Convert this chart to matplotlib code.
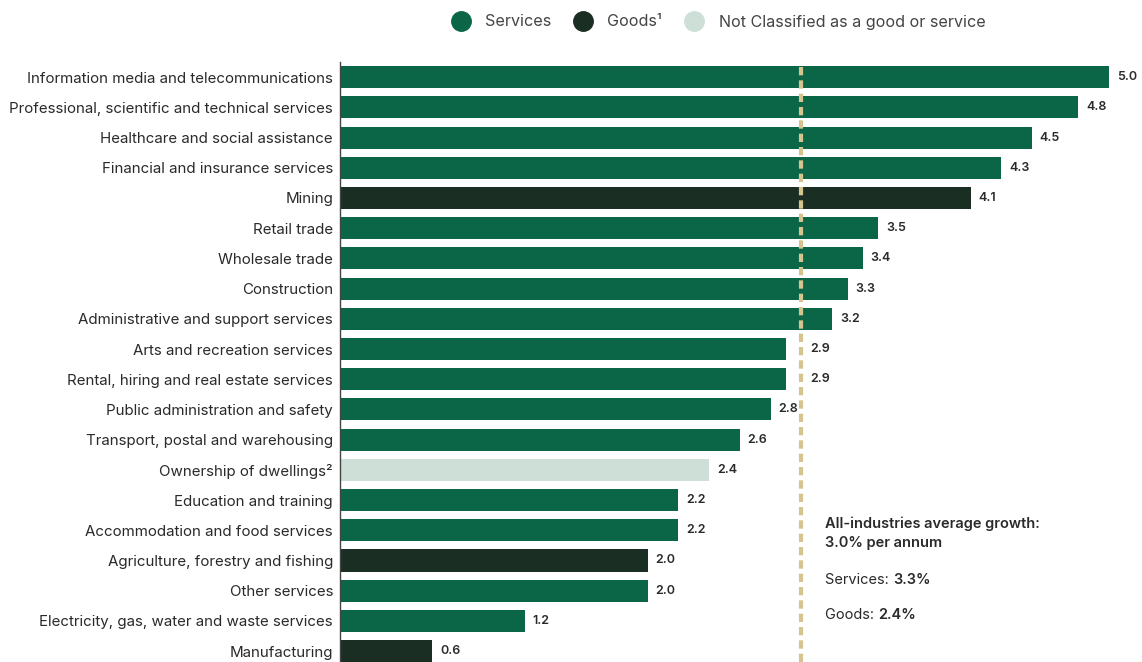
import matplotlib.pyplot as plt
from matplotlib.lines import Line2D

industries = [
    "Information media and telecommunications",
    "Professional, scientific and technical services",
    "Healthcare and social assistance",
    "Financial and insurance services",
    "Mining",
    "Retail trade",
    "Wholesale trade",
    "Construction",
    "Administrative and support services",
    "Arts and recreation services",
    "Rental, hiring and real estate services",
    "Public administration and safety",
    "Transport, postal and warehousing",
    "Ownership of dwellings\u00b2",
    "Education and training",
    "Accommodation and food services",
    "Agriculture, forestry and fishing",
    "Other services",
    "Electricity, gas, water and waste services",
    "Manufacturing",
]
growth = [5.0, 4.8, 4.5, 4.3, 4.1, 3.5, 3.4, 3.3, 3.2, 2.9,
          2.9, 2.8, 2.6, 2.4, 2.2, 2.2, 2.0, 2.0, 1.2, 0.6]
sector = ["S", "S", "S", "S", "G", "S", "S", "S", "S", "S",
          "S", "S", "S", "N", "S", "S", "G", "S", "S", "G"]
avg_all = 3.0
avg_services = 3.3
avg_goods = 2.4

colors = {"S": "#0b6647", "G": "#1b2e23", "N": "#cddfd7"}
line_col = "#d6c48e"
text_col = "#2a2a2a"

plt.rcParams["font.family"] = ["Inter", "DejaVu Sans"]

fig = plt.figure(figsize=(11.42, 6.62), dpi=100)
ax = fig.add_axes([340 / 1142, 0, 1 - 340 / 1142, 600 / 662])

y = list(range(len(industries)))
ax.barh(y, growth, height=0.73, color=[colors[s] for s in sector])
ax.plot([avg_all, avg_all], [-0.33, 19.36], color=line_col, lw=3,
        dashes=(2.0, 1.2), zorder=3, solid_capstyle="butt", dash_capstyle="butt")

for yi, v in zip(y, growth):
    x = v + 0.05
    if avg_all - 0.2 < v < avg_all:
        x = avg_all + 0.06
    ax.text(x, yi, f"{v:.1f}", va="center", ha="left", fontsize=9,
            fontweight="semibold", color=text_col)

ax.set_xlim(0, (1142 - 340) / 153.8)
ax.set_ylim(19.36, -0.5)
ax.set_yticks(y)
ax.set_yticklabels(industries, fontsize=10.85, color=text_col)
ax.tick_params(axis="y", length=0, pad=5)
ax.set_xticks([])
for s in ["top", "right", "bottom"]:
    ax.spines[s].set_visible(False)
ax.spines["left"].set_color("#444444")
ax.spines["left"].set_linewidth(1)

# annotation block
tx = 3.155
ax.text(tx, 15.1, "All-industries average growth:\n3.0% per annum", fontsize=10.5,
        fontweight="semibold", color=text_col, va="center", linespacing=1.45)
for yy, lab, val in [(16.65, "Services: ", avg_services), (17.82, "Goods: ", avg_goods)]:
    t = ax.text(tx, yy, lab, fontsize=10.5, color=text_col, va="center")
    ax.annotate(f"{val:.1f}%", xy=(1, 0.5), xycoords=t, va="center", ha="left",
                fontsize=10.5, fontweight="semibold", color=text_col)

handles = [Line2D([], [], marker="o", ls="", ms=14, color=colors[k]) for k in ["S", "G", "N"]]
fig.legend(handles, ["Services", "Goods\u00b9", "Not Classified as a good or service"],
           loc="center", bbox_to_anchor=(0.626, 1 - 22 / 662), ncol=3, frameon=False,
           fontsize=11.6, handletextpad=0.5, columnspacing=1.0, labelcolor="#444444")

fig.savefig("out.png", dpi=100)
